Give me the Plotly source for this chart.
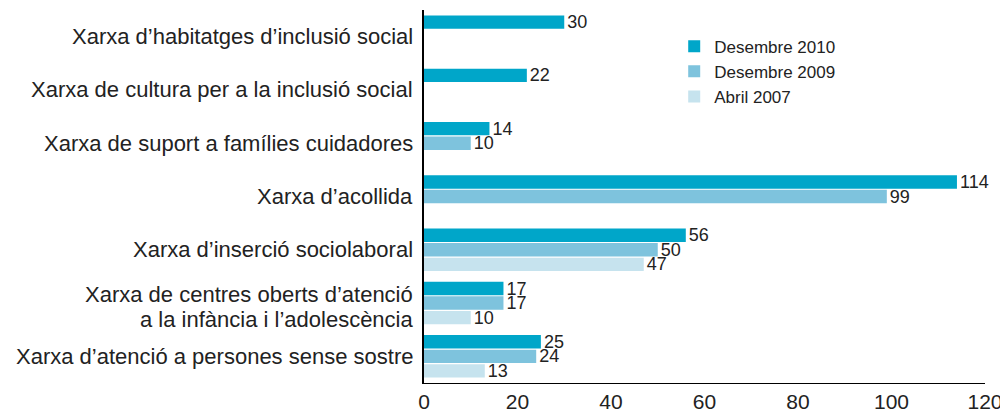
import plotly.graph_objects as go

categories = [
    "Xarxa d’habitatges d’inclusió social",
    "Xarxa de cultura per a la inclusió social",
    "Xarxa de suport a famílies cuidadores",
    "Xarxa d’acollida",
    "Xarxa d’inserció sociolaboral",
    "Xarxa de centres oberts d’atenció|a la infància i l’adolescència",
    "Xarxa d’atenció a persones sense sostre",
]
des2010 = [30, 22, 14, 114, 56, 17, 25]
des2009 = [None, None, 10, 99, 50, 17, 24]
abr2007 = [None, None, None, None, 47, 10, 13]

series = [
    ("Abril 2007", abr2007, "#C6E3EE"),
    ("Desembre 2009", des2009, "#7EC3DD"),
    ("Desembre 2010", des2010, "#00A6C9"),
]

cats_bottom_up = categories[::-1]
FONT = "Liberation Sans"
TXT = "#222"

fig = go.Figure()
for name, vals, col in series:
    v = vals[::-1]
    fig.add_trace(go.Bar(
        y=cats_bottom_up, x=v, name=name, orientation="h",
        marker=dict(color=col, line=dict(width=0)),
        text=[str(a) if a is not None else "" for a in v],
        textposition="outside", cliponaxis=False, constraintext="none",
        textfont=dict(family=FONT, size=18, color=TXT),
    ))

# category labels as annotations (allows tight two-line spacing)
line_shifts = {1: [0], 2: [9, -16]}
for c in categories:
    lines = c.split("|")
    for ln, shift in zip(lines, line_shifts[len(lines)]):
        fig.add_annotation(
            x=0, xref="paper", xanchor="right", xshift=-9,
            y=c, yref="y", yanchor="middle", yshift=shift,
            text=ln, showarrow=False,
            font=dict(family=FONT, size=22, color=TXT),
        )

# the page body has an 8px margin, so the figure is 8px smaller than the window
fig.update_layout(
    width=1000, height=403,
    margin=dict(l=416, r=23, t=2, b=28),
    paper_bgcolor="white", plot_bgcolor="white",
    barmode="group", bargap=0.18, bargroupgap=0.08,
    font=dict(family=FONT, color=TXT),
    showlegend=True,
    legend=dict(
        x=0.446, y=0.95, xanchor="left", yanchor="top",
        traceorder="reversed",
        font=dict(family=FONT, size=17, color=TXT),
        bgcolor="rgba(0,0,0,0)",
    ),
    xaxis=dict(
        range=[0, 120], tickvals=[0, 20, 40, 60, 80, 100, 120],
        showgrid=False, zeroline=False, showline=True, linecolor="black", linewidth=1,
        ticks="", automargin=False,
        tickfont=dict(family=FONT, size=21, color=TXT),
    ),
    yaxis=dict(
        type="category", categoryorder="array", categoryarray=cats_bottom_up,
        range=[-0.5, 6.5], showgrid=False, zeroline=False,
        showline=True, linecolor="black", linewidth=1.5,
        ticks="", showticklabels=False, automargin=False,
    ),
)

fig.write_html("out.html")
